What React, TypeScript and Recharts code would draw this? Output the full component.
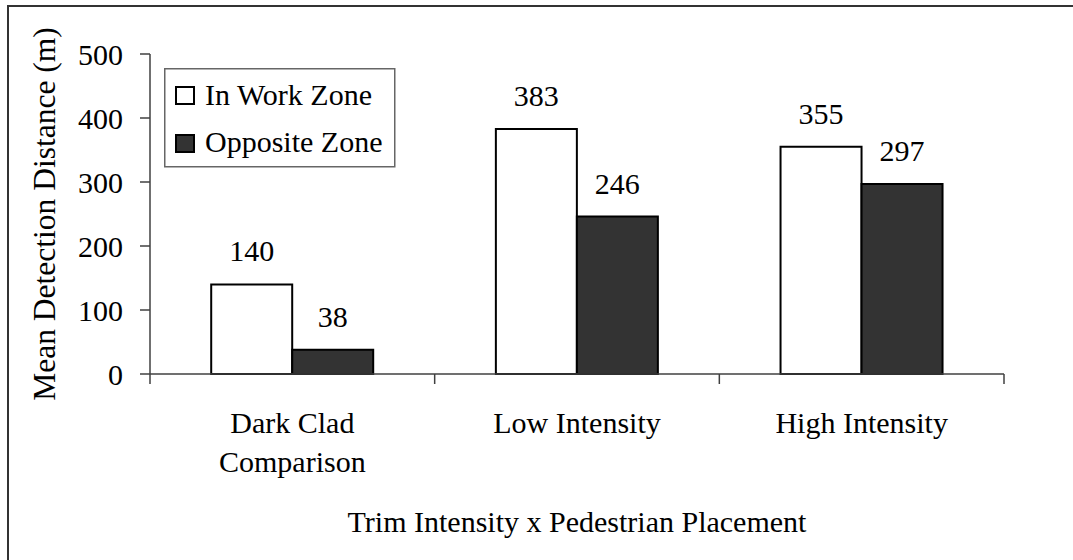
import React from 'react';
import { BarChart, Bar, XAxis, YAxis, Legend, LabelList, Label } from 'recharts';

const categories = ['Dark Clad\nComparison', 'Low Intensity', 'High Intensity'];
const inWorkZone = [140, 383, 355];
const oppositeZone = [38, 246, 297];
const yTicks = [0, 100, 200, 300, 400, 500];
const seriesNames = ['In Work Zone', 'Opposite Zone'];
const seriesFills = ['#ffffff', '#333333'];
const xTitle = 'Trim Intensity x Pedestrian Placement';
const yTitle = 'Mean Detection Distance (m)';

const data = categories.map((c, i) => ({ name: c, inWork: inWorkZone[i], opposite: oppositeZone[i] }));

const FONT = "'Liberation Serif', 'Times New Roman', serif";
const FS = 30;
const AXIS = '#404040';
const FRAME = '#808080';

const XTick = (props: any) => {
  const { x, y, payload, index, visibleTicksCount } = props;
  const lines = String(payload.value).split('\n');
  const half = payload.offset || 0;
  const axisY = y - 12;
  return (
    <g>
      <line x1={x - half} x2={x - half} y1={axisY} y2={axisY + 10} stroke={AXIS} strokeWidth={1.5} />
      {index === visibleTicksCount - 1 && (
        <line x1={x + half} x2={x + half} y1={axisY} y2={axisY + 10} stroke={AXIS} strokeWidth={1.5} />
      )}
      <text x={x} y={y} textAnchor="middle" fontFamily={FONT} fontSize={FS} fill="#000">
        {lines.map((l, i) => (
          <tspan key={i} x={x} dy={i === 0 ? 47 : 39}>{l}</tspan>
        ))}
      </text>
    </g>
  );
};

const YTitle = (props: any) => {
  const vb = props.viewBox || { x: 0, y: 54, width: 150, height: 320 };
  const cx = vb.x + 55;
  const cy = vb.y + vb.height / 2;
  return (
    <text x={cx} y={cy} transform={`rotate(-90 ${cx} ${cy})`} textAnchor="middle" fontFamily={FONT} fontSize={31.5} fill="#000">
      {yTitle}
    </text>
  );
};

const renderLegend = (props: any) => {
  const payload = props.payload || [];
  return (
    <svg width={232} height={100} style={{ display: 'block' }}>
      <rect x={0.75} y={0.75} width={230} height={98} fill="#fff" stroke="#666" strokeWidth={1.5} />
      {seriesNames.map((n, i) => {
        const entry = payload[i];
        const fill = entry && entry.payload && entry.payload.fill ? entry.payload.fill : seriesFills[i];
        return (
          <g key={n}>
            <rect x={12} y={19 + i * 48} width={18} height={17} fill={fill} stroke="#000" strokeWidth={2} />
            <text x={41} y={37 + i * 47} fontFamily={FONT} fontSize={FS} fill="#000">{n}</text>
          </g>
        );
      })}
    </svg>
  );
};

export default function App() {
  return (
    <div style={{ position: 'absolute', left: 0, top: 0, width: 1073, height: 560, overflow: 'hidden', background: '#fff' }}>
      <div style={{ position: 'absolute', left: 7, top: 5, width: 1200, height: 700, border: '2px solid #333', boxSizing: 'border-box' }} />
      <div style={{ position: 'absolute', left: 0, top: 0 }}>
        <BarChart
          width={1073}
          height={560}
          data={data}
          margin={{ top: 54, right: 69, bottom: 0, left: 0 }}
          barCategoryGap="21.5%"
          barGap={0}
        >
          <XAxis
            dataKey="name"
            height={186}
            tick={<XTick />}
            tickLine={false}
            tickSize={10}
            tickMargin={2}
            interval={0}
            axisLine={{ stroke: AXIS, strokeWidth: 1.5 }}
          >
            <Label value={xTitle} position="insideBottom" offset={28} fontFamily={FONT} fontSize={FS} fill="#000" />
          </XAxis>
          <XAxis
            xAxisId="top"
            dataKey="name"
            orientation="top"
            height={0}
            tick={false}
            tickLine={false}
            axisLine={{ stroke: FRAME, strokeWidth: 1.5 }}
          />
          <YAxis
            width={150}
            domain={[0, 500]}
            ticks={yTicks}
            interval={0}
            tickSize={10}
            tickMargin={17}
            tick={{ fontFamily: FONT, fontSize: FS, fill: '#000' }}
            tickLine={{ stroke: AXIS, strokeWidth: 1.5 }}
            axisLine={{ stroke: AXIS, strokeWidth: 1.5 }}
          >
            <Label content={<YTitle />} position="insideLeft" />
          </YAxis>
          <YAxis
            yAxisId="right"
            orientation="right"
            width={0}
            domain={[0, 500]}
            tick={false}
            tickLine={false}
            axisLine={{ stroke: FRAME, strokeWidth: 1.5 }}
          />
          <Legend
            layout="vertical"
            align="center"
            verticalAlign="middle"
            content={renderLegend}
            wrapperStyle={{ position: 'absolute', left: 164, top: 68, width: 232, height: 100 }}
          />
          <Bar dataKey="inWork" name={seriesNames[0]} fill={seriesFills[0]} stroke="#000" strokeWidth={2} isAnimationActive={false}>
            <LabelList dataKey="inWork" position="top" offset={23} fontFamily={FONT} fontSize={FS} fill="#000" />
          </Bar>
          <Bar dataKey="opposite" name={seriesNames[1]} fill={seriesFills[1]} stroke="#000" strokeWidth={2} isAnimationActive={false}>
            <LabelList dataKey="opposite" position="top" offset={23} fontFamily={FONT} fontSize={FS} fill="#000" />
          </Bar>
        </BarChart>
      </div>
    </div>
  );
}
